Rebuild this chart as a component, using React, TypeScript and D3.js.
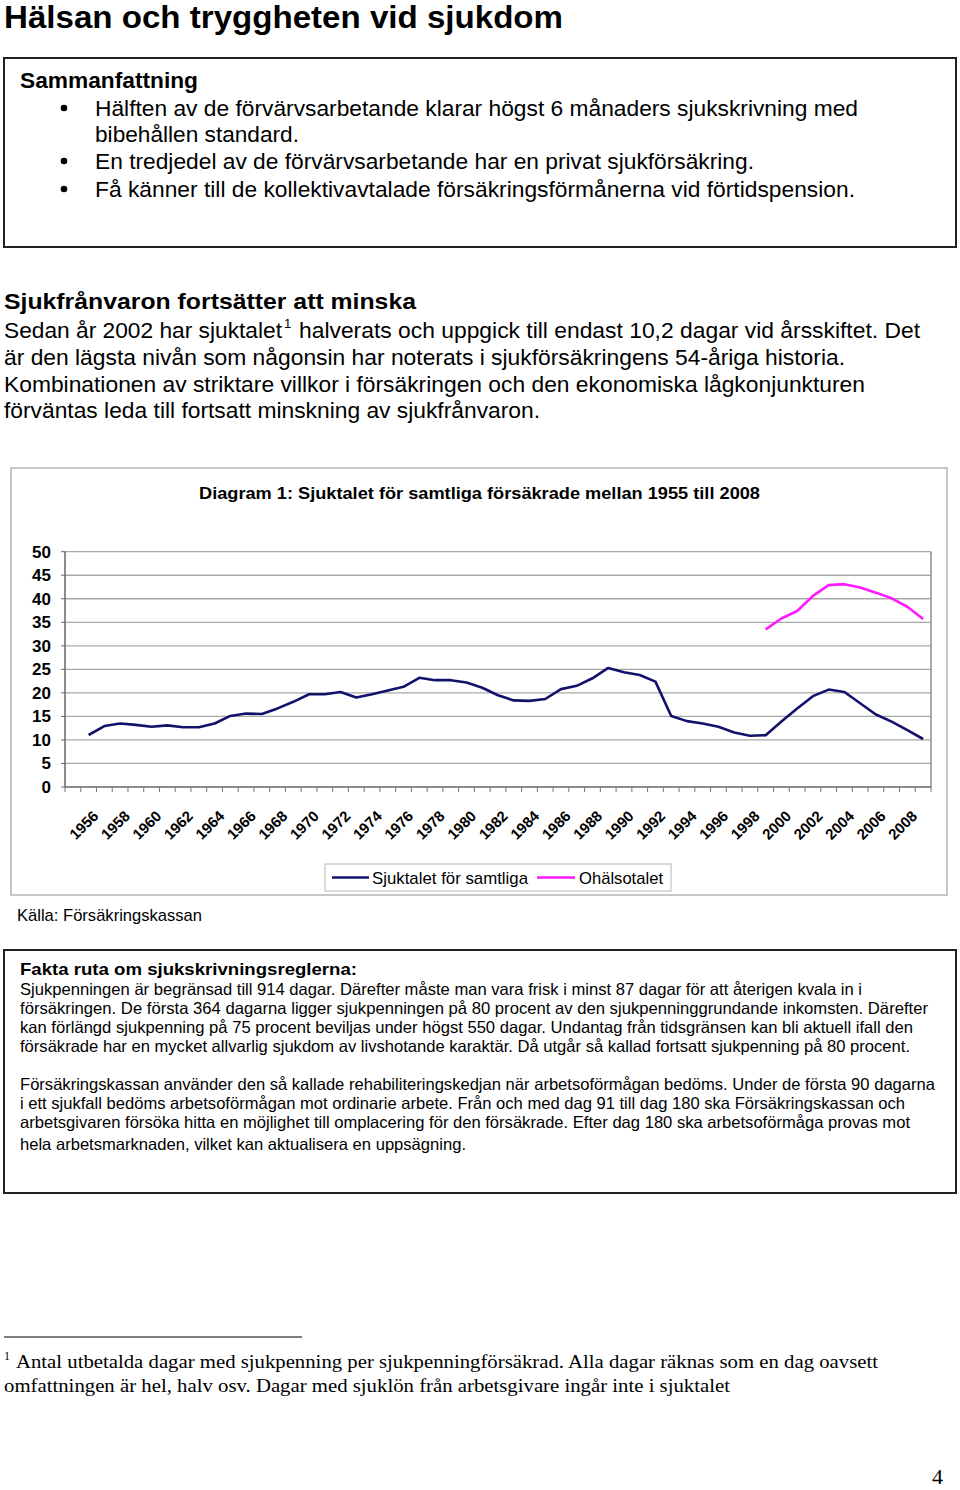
import React from "react";
import * as d3 from "d3";

const years = [1955, 1956, 1957, 1958, 1959, 1960, 1961, 1962, 1963, 1964, 1965, 1966, 1967, 1968, 1969, 1970, 1971, 1972, 1973, 1974, 1975, 1976, 1977, 1978, 1979, 1980, 1981, 1982, 1983, 1984, 1985, 1986, 1987, 1988, 1989, 1990, 1991, 1992, 1993, 1994, 1995, 1996, 1997, 1998, 1999, 2000, 2001, 2002, 2003, 2004, 2005, 2006, 2007, 2008];

const sjuktal = [11.05, 12.96, 13.5, 13.2, 12.8, 13.1, 12.7, 12.7, 13.5, 15.1, 15.6, 15.5, 16.7, 18.1, 19.7, 19.7, 20.2, 19.0, 19.7, 20.5, 21.3, 23.2, 22.7, 22.7, 22.2, 21.1, 19.5, 18.4, 18.3, 18.7, 20.8, 21.5, 23.1, 25.3, 24.4, 23.8, 22.4, 15.1, 14.0, 13.5, 12.8, 11.6, 10.9, 11.0, 13.9, 16.7, 19.3, 20.7, 20.2, 17.8, 15.4, 13.9, 12.1, 10.2];

const ohalsaYears = [1998, 1999, 2000, 2001, 2002, 2003, 2004, 2005, 2006, 2007, 2008];
const ohalsa = [33.5, 35.8, 37.4, 40.6, 42.9, 43.1, 42.4, 41.3, 40.1, 38.3, 35.7];

const yTicks = [0, 5, 10, 15, 20, 25, 30, 35, 40, 45, 50];
const xLabelYears = [1956, 1958, 1960, 1962, 1964, 1966, 1968, 1970, 1972, 1974, 1976, 1978, 1980, 1982, 1984, 1986, 1988, 1990, 1992, 1994, 1996, 1998, 2000, 2002, 2004, 2006, 2008];

const seriesNames = ["Sjuktalet för samtliga", "Ohälsotalet"];
const seriesColors = ["#12126b", "#ff1aff"];

const SANS = "'Liberation Sans', Arial, Helvetica, sans-serif";
const SERIF = "'Liberation Serif', 'Times New Roman', serif";

type TP = { x: number; y: number; s: number; w?: number; b?: boolean; f?: string; children: React.ReactNode; anchor?: string };
const T = ({ x, y, s, w, b, f, children, anchor }: TP) => (
  <text
    x={x}
    y={y}
    fontSize={s}
    fontFamily={f || SANS}
    fontWeight={b ? "bold" : "normal"}
    textLength={w}
    lengthAdjust={w ? "spacingAndGlyphs" : undefined}
    textAnchor={anchor || "start"}
    fill="#000"
  >
    {children}
  </text>
);

export default function App() {
  const plotLeft = 65;
  const plotRight = 931;
  const categories = ["", ...years.map(String)];
  const x = d3.scaleBand<string>().domain(categories).range([plotLeft, plotRight]).paddingInner(0).paddingOuter(0);
  const cx = (yr: number) => (x(String(yr)) as number) + x.bandwidth() / 2;
  const y = d3.scaleLinear().domain([0, 50]).range([787, 551.7]);

  const line = d3
    .line<[number, number | null]>()
    .defined((d) => d[1] != null)
    .x((d) => cx(d[0]))
    .y((d) => y(d[1] as number));

  const sjData: [number, number | null][] = years.map((yr, i) => [yr, sjuktal[i]]);
  const ohData: [number, number | null][] = ohalsaYears.map((yr, i) => [yr, ohalsa[i]]);

  const tickXs = categories.map((c) => x(c) as number).concat([plotRight]);

  return (
    <svg width={960} height={1490} style={{ position: "absolute", left: 0, top: 0, background: "#fff" }}>
      <rect x={0} y={0} width={960} height={1490} fill="#fff" />
      {/* Title */}
      <T x={4} y={28} s={31} b w={559}>Hälsan och tryggheten vid sjukdom</T>

      {/* Summary box */}
      <rect x={4} y={58} width={952} height={189} fill="none" stroke="#222" strokeWidth={2} />
      <T x={20} y={88} s={22.5} b w={178}>Sammanfattning</T>
      {[108, 161, 189].map((cy) => (
        <circle key={cy} cx={64} cy={cy} r={3.3} fill="#000" />
      ))}
      <T x={95} y={116} s={22.5} w={763}>Hälften av de förvärvsarbetande klarar högst 6 månaders sjukskrivning med</T>
      <T x={95} y={142} s={22.5} w={204}>bibehållen standard.</T>
      <T x={95} y={169} s={22.5} w={659}>En tredjedel av de förvärvsarbetande har en privat sjukförsäkring.</T>
      <T x={95} y={197} s={22.5} w={760}>Få känner till de kollektivavtalade försäkringsförmånerna vid förtidspension.</T>

      {/* Section heading and paragraph */}
      <T x={4} y={309} s={22.5} b w={412}>Sjukfrånvaron fortsätter att minska</T>
      <T x={4} y={338} s={22.5} w={278}>Sedan år 2002 har sjuktalet</T>
      <T x={284} y={328} s={13}>1</T>
      <T x={299} y={338} s={22.5} w={621}>halverats och uppgick till endast 10,2 dagar vid årsskiftet. Det</T>
      <T x={4} y={365} s={22.5} w={841}>är den lägsta nivån som någonsin har noterats i sjukförsäkringens 54-åriga historia.</T>
      <T x={4} y={392} s={22.5} w={861}>Kombinationen av striktare villkor i försäkringen och den ekonomiska lågkonjunkturen</T>
      <T x={4} y={418} s={22.5} w={536}>förväntas leda till fortsatt minskning av sjukfrånvaron.</T>

      {/* Chart frame */}
      <rect x={11} y={468} width={936} height={427} fill="#fff" stroke="#b4b4b4" strokeWidth={1.5} />
      <T x={479.5} y={499} s={17} b w={561} anchor="middle">Diagram 1: Sjuktalet för samtliga försäkrade mellan 1955 till 2008</T>

      {/* Gridlines */}
      {yTicks.filter((t) => t > 0).map((t) => (
        <line key={t} x1={plotLeft} x2={plotRight} y1={y(t)} y2={y(t)} stroke="#a8a8a8" strokeWidth={1.3} />
      ))}
      {/* Plot border right */}
      <line x1={plotRight} x2={plotRight} y1={y(50)} y2={y(0)} stroke="#8c8c8c" strokeWidth={1.5} />
      {/* Y axis */}
      <line x1={plotLeft} x2={plotLeft} y1={y(50)} y2={y(0)} stroke="#666" strokeWidth={1.5} />
      {yTicks.map((t) => (
        <g key={t}>
          <line x1={plotLeft - 4} x2={plotLeft} y1={y(t)} y2={y(t)} stroke="#666" strokeWidth={1} />
          <T x={51} y={y(t) + 6} s={17} b anchor="end">{String(t)}</T>
        </g>
      ))}
      {/* X axis */}
      <line x1={plotLeft} x2={plotRight} y1={y(0)} y2={y(0)} stroke="#666" strokeWidth={1.5} />
      {tickXs.map((tx, i) => (
        <line key={i} x1={tx} x2={tx} y1={y(0)} y2={y(0) + 5} stroke="#777" strokeWidth={1} />
      ))}
      {xLabelYears.map((yr) => (
        <text
          key={yr}
          transform={`translate(${cx(yr) - 5},${817}) rotate(-45)`}
          fontSize={15}
          fontWeight="bold"
          fontFamily={SANS}
          textAnchor="end"
          fill="#000"
        >
          {yr}
        </text>
      ))}

      {/* Lines */}
      <path d={line(sjData) || ""} fill="none" stroke={seriesColors[0]} strokeWidth={2.6} strokeLinejoin="round" />
      <path d={line(ohData) || ""} fill="none" stroke={seriesColors[1]} strokeWidth={2.6} strokeLinejoin="round" />

      {/* Legend */}
      <rect x={325} y={864} width={346} height={27} fill="#fff" stroke="#b4b4b4" strokeWidth={1} />
      <line x1={332} x2={369} y1={877.5} y2={877.5} stroke={seriesColors[0]} strokeWidth={2.6} />
      <T x={372} y={884} s={17} w={156}>{seriesNames[0]}</T>
      <line x1={537} x2={575} y1={877.5} y2={877.5} stroke={seriesColors[1]} strokeWidth={2.6} />
      <T x={579} y={884} s={17} w={84}>{seriesNames[1]}</T>

      <T x={17} y={921} s={17} w={185}>Källa: Försäkringskassan</T>

      {/* Fakta box */}
      <rect x={4} y={950} width={952} height={243} fill="none" stroke="#222" strokeWidth={2} />
      <T x={20} y={975} s={17} b w={337}>Fakta ruta om sjukskrivningsreglerna:</T>
      <T x={20} y={995} s={16.5} w={842}>Sjukpenningen är begränsad till 914 dagar. Därefter måste man vara frisk i minst 87 dagar för att återigen kvala in i</T>
      <T x={20} y={1014} s={16.5} w={908}>försäkringen.  De första 364 dagarna ligger sjukpenningen på 80 procent av den sjukpenninggrundande inkomsten. Därefter</T>
      <T x={20} y={1033} s={16.5} w={893}>kan förlängd sjukpenning på 75 procent beviljas under högst 550 dagar. Undantag från tidsgränsen kan bli aktuell ifall den</T>
      <T x={20} y={1052} s={16.5} w={890}>försäkrade har en mycket allvarlig sjukdom av livshotande karaktär. Då utgår så kallad fortsatt sjukpenning på 80 procent.</T>
      <T x={20} y={1090} s={16.5} w={915}>Försäkringskassan använder den så kallade rehabiliteringskedjan när arbetsoförmågan bedöms. Under de första 90 dagarna</T>
      <T x={20} y={1109} s={16.5} w={885}>i ett sjukfall bedöms arbetsoförmågan mot ordinarie arbete. Från och med dag 91 till dag 180 ska Försäkringskassan och</T>
      <T x={20} y={1128} s={16.5} w={890}>arbetsgivaren försöka hitta en möjlighet till omplacering för den försäkrade. Efter dag 180 ska arbetsoförmåga provas mot</T>
      <T x={20} y={1150} s={16.5} w={446}>hela arbetsmarknaden, vilket kan aktualisera en uppsägning.</T>

      {/* Footnote */}
      <line x1={4} x2={302} y1={1337} y2={1337} stroke="#000" strokeWidth={1.2} />
      <T x={4} y={1360} s={12} f={SERIF}>1</T>
      <T x={16} y={1368} s={19} f={SERIF} w={862}>Antal utbetalda dagar med sjukpenning per sjukpenningförsäkrad. Alla dagar räknas som en dag oavsett</T>
      <T x={4} y={1392} s={19} f={SERIF} w={726}>omfattningen är hel, halv osv. Dagar med sjuklön från arbetsgivare ingår inte i sjuktalet</T>
      <T x={932} y={1484} s={22} f={SERIF}>4</T>
    </svg>
  );
}
